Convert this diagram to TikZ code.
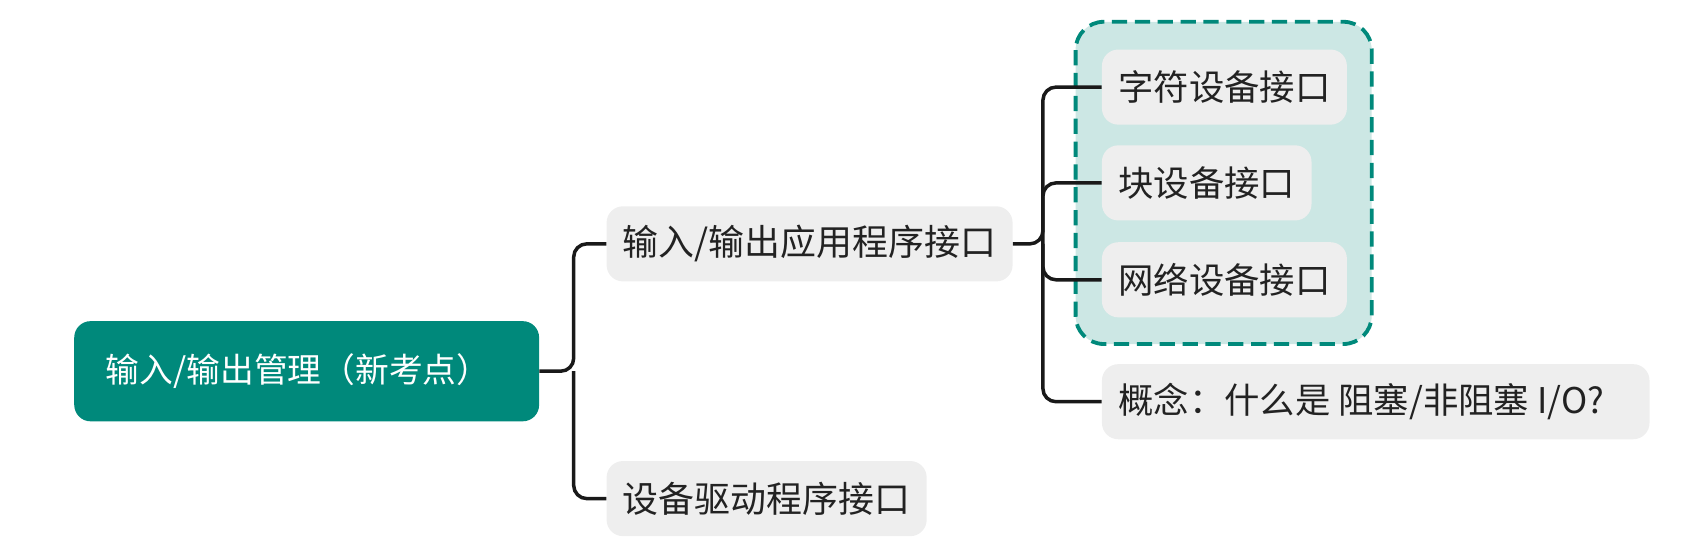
\documentclass[tikz,border=0pt]{standalone}
\usepackage{fontspec}
\setmainfont{Noto Sans CJK SC}
\definecolor{teal1}{HTML}{00897B}
\definecolor{tealbg}{HTML}{CCE7E4}
\definecolor{boxgray}{HTML}{EEEEEE}
\definecolor{txt}{HTML}{222222}
\begin{document}
\begin{tikzpicture}[x=1pt,y=-1pt,
  leaf/.style={fill=boxgray,rounded corners=15pt,anchor=west,inner xsep=15pt,inner ysep=0pt,minimum height=69pt,text=txt,font=\fontsize{32.5}{38}\selectfont},
  mid/.style={leaf,font=\fontsize{33}{38}\selectfont},
  rootbox/.style={fill=teal1,rounded corners=15pt,anchor=west,inner xsep=29pt,minimum height=92pt,text width=369pt,align=left,text=white,font=\fontsize{31}{36}\selectfont},
  conn/.style={line width=3.2pt,draw=black!90,rounded corners=12pt}]
\useasboundingbox (0,0) rectangle (1568,513.5);
\node[rootbox] (root) at (68,341) {输入/输出管理（新考点）};
\draw[fill=tealbg,draw=teal1,line width=3.5pt,dash pattern=on 14pt off 7pt,rounded corners=26pt] (988,20) rectangle (1260,316);
\node[mid] (api) at (557,224) {输入/输出应用程序接口};
\node[mid] (drv) at (557,458) {设备驱动程序接口};
\node[leaf,minimum width=225pt] (chr) at (1012,80) {字符设备接口};
\node[leaf] (blk) at (1012,168) {块设备接口};
\node[leaf,minimum width=225pt] (net) at (1012,257) {网络设备接口};
\node[leaf] (con) at (1012,369) {\makebox[473pt][l]{概念：什么是 阻塞/非阻塞 I/O?}};
\coordinate (t1) at (527,341);
\coordinate (t2) at (958,224);
\draw[conn] (root.east) -- (t1) |- (api.west);
\draw[conn] (t1) |- (drv.west);
\draw[conn] (api.east) -- (t2) |- (chr.west);
\draw[conn] (t2) |- (blk.west);
\draw[conn] (t2) |- (net.west);
\draw[conn] (t2) |- (con.west);
\end{tikzpicture}
\end{document}
